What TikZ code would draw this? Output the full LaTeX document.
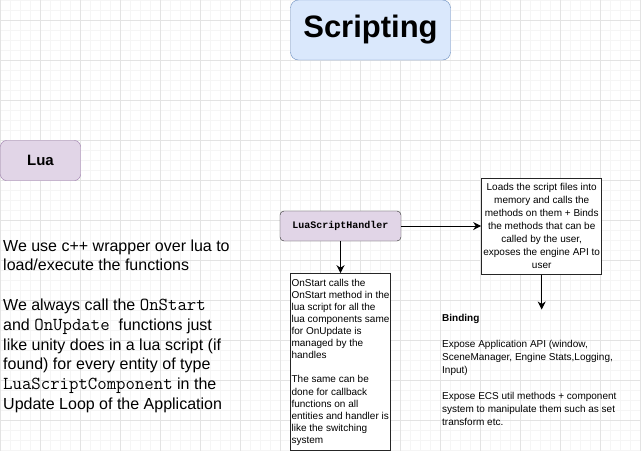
\documentclass[tikz,border=0pt]{standalone}
\usepackage{fontspec}
\setmainfont{Liberation Sans}
\setmonofont{Liberation Mono}
\newfontfamily\codefont{Latin Modern Mono}[Scale=1.143]
\usepackage{tikz}
\usetikzlibrary{arrows.meta,positioning}

\definecolor{headfill}{HTML}{DAE8FC}
\definecolor{headdraw}{HTML}{6C8EBF}
\definecolor{luafill}{HTML}{E1D5E7}
\definecolor{luadraw}{HTML}{9673A6}

\newcommand{\code}[1]{{\codefont #1}}

\begin{document}
\begin{tikzpicture}[
  x=1pt,y=-1pt,
  font=\fontsize{10}{13}\selectfont,
  headbox/.style={draw=headdraw,fill=headfill,rounded corners=8pt,minimum width=160pt,minimum height=60pt,font=\fontsize{31}{37}\selectfont\bfseries},
  langbox/.style={draw=luadraw,fill=luafill,rounded corners=6pt,minimum width=80pt,minimum height=40pt,font=\fontsize{15}{18}\selectfont\bfseries},
  handlerbox/.style={draw=black!85,fill=luafill,rounded corners=4pt,minimum width=121pt,minimum height=30pt,font=\fontsize{10}{12}\selectfont\ttfamily\bfseries},
  notebox/.style={draw=black!85,line width=1pt,fill=white,inner sep=1pt},
  plain/.style={inner sep=0pt,align=left,anchor=north west},
  ar/.style={line width=1pt,-{Stealth[length=8pt,width=8pt,inset=2.5pt]}}
]
\useasboundingbox (0,0) rectangle (641,451);
\clip (0,0) rectangle (641,451);
\fill[white] (0,0) rectangle (641,451);
% background grid
\foreach \gx in {0,10,...,640} \draw[gray!8,line width=0.5pt] (\gx,0) -- (\gx,451);
\foreach \gy in {0,10,...,450} \draw[gray!8,line width=0.5pt] (0,\gy) -- (641,\gy);
\foreach \gx in {0,40,...,640} \draw[gray!22,line width=0.5pt] (\gx,0) -- (\gx,451);
\foreach \gy in {20,60,...,450} \draw[gray!22,line width=0.5pt] (0,\gy) -- (641,\gy);

\node[headbox] (head) at (370.5,30) {Scripting};
\node[langbox] (lua) at (40.5,160.5) {Lua};

\node[plain,font=\fontsize{16}{19.8}\selectfont] (intro) at (3,239.3)
  {We use c++ wrapper over lua to\\
   load/execute the functions\\[19.8pt]
   We always call the \code{OnStart}\\
   and \code{OnUpdate}\ \ functions just\\
   like unity does in a lua script (if\\
   found) for every entity of type\\
   \code{LuaScriptComponent} in the\\
   Update Loop of the Application};

\node[handlerbox] (handler) at (340.5,226) {LuaScriptHandler};
\node[notebox,right=80pt of handler,minimum width=120pt,minimum height=96pt,align=center] (loader)
  {Loads the script files into\\memory and calls the\\methods on them + Binds\\the methods that can be\\called by the user,\\exposes the engine API to\\user};
\node[notebox,below=32pt of handler,minimum width=99pt,minimum height=177pt,align=left,font=\fontsize{10}{12.1}\selectfont] (onstart)
  {OnStart calls the\\OnStart method in the\\lua script for all the\\lua components same\\for OnUpdate is\\managed by the\\handles\\[12.1pt]
   The same can be\\done for callback\\functions on all\\entities and handler is\\like the switching\\system};
\node[plain] (binding) at (442,313.7)
  {\textbf{Binding}\\[13pt]
   Expose Application API (window,\\SceneManager, Engine Stats,Logging,\\Input)\\[13pt]
   Expose ECS util methods + component\\system to manipulate them such as set\\transform etc.};
\coordinate (bindtip) at ([yshift=-35pt]loader.south);

\draw[ar] (handler) -- (loader);
\draw[ar] (handler) -- (onstart);
\draw[ar] (loader) -- (bindtip);
\end{tikzpicture}
\end{document}
